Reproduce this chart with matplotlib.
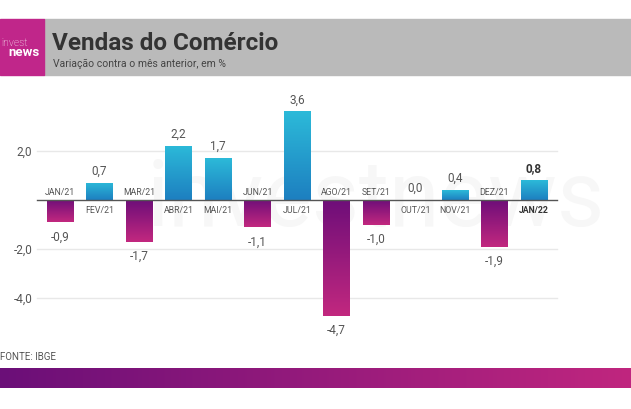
import numpy as np
import matplotlib
matplotlib.use("Agg")
import matplotlib.pyplot as plt
from matplotlib.patches import Rectangle
from matplotlib.colors import LinearSegmentedColormap

meses = ["JAN/21", "FEV/21", "MAR/21", "ABR/21", "MAI/21", "JUN/21", "JUL/21",
         "AGO/21", "SET/21", "OUT/21", "NOV/21", "DEZ/21", "JAN/22"]
valores = [-0.9, 0.7, -1.7, 2.2, 1.7, -1.1, 3.6, -4.7, -1.0, 0.0, 0.4, -1.9, 0.8]
yticks = [-4.0, -2.0, 2.0]

plt.rcParams['font.family'] = ['Roboto', 'DejaVu Sans']

W, H = 631, 410
fig = plt.figure(figsize=(W / 100, H / 100), dpi=100)
fig.patch.set_facecolor("white")

def fx(px):
    return px / W

def fy(py):
    return 1 - py / H

# cabeçalho
fig.patches.append(Rectangle((fx(44), fy(76)), 1 - fx(44), fy(20) - fy(76),
                             transform=fig.transFigure, color="#bababa", zorder=0))
fig.patches.append(Rectangle((0, fy(76)), fx(44), fy(20) - fy(76),
                             transform=fig.transFigure, color="#c0268a", zorder=1))
fig.text(fx(1), fy(43), "invest", color="white", fontsize=7.5, fontweight="light",
         va="center", ha="left")
fig.text(fx(8), fy(52), "news", color="white", fontsize=9.5, fontweight="bold",
         va="center", ha="left")
fig.text(fx(52), fy(43), "Vendas do Comércio", color="#333333", fontsize=17.5,
         fontweight="bold", va="center", ha="left")
fig.text(fx(53), fy(64), "Variação contra o mês anterior, em %", color="#444444",
         fontsize=7.5, va="center", ha="left")

# faixa inferior com gradiente
cmap_faixa = LinearSegmentedColormap.from_list("faixa", ["#6b0f78", "#c0267f"])
ax_f = fig.add_axes([0, fy(389), 1, fy(369) - fy(389)])
ax_f.imshow(np.linspace(0, 1, 256).reshape(1, -1), aspect="auto", cmap=cmap_faixa,
            extent=[0, 1, 0, 1])
ax_f.axis("off")
fig.text(0, fy(357), "FONTE: IBGE", color="#555555", fontsize=7, va="center", ha="left")

# eixo principal
top_px, bot_px = 85, 345
ax = fig.add_axes([0, fy(bot_px), 1, fy(top_px) - fy(bot_px)])
ax.set_facecolor("none")
zero_px, unit_px = 201, 24.6
ax.set_ylim((zero_px - bot_px) / unit_px, (zero_px - top_px) / unit_px)
x0, dx = 60, 39.5
ax.set_xlim(-x0 / dx, (W - x0) / dx)

x = np.arange(len(meses))
larg = 0.66

# marca d'água
ax.text(8.0, 0.0, "investnews", fontsize=66, color="#f7f7f7", ha="center",
        va="center", fontweight="normal", zorder=0)

for yv in yticks:
    ax.plot([-0.58, 12.58], [yv, yv], color="#e8e8e8", lw=1, zorder=1)
    ax.text(-0.7, yv, f"{yv:.1f}".replace(".", ","), ha="right", va="center",
            fontsize=8.5, color="#555555")
ax.plot([-0.58, 12.58], [0, 0], color="#555555", lw=1, zorder=4)

cmap_pos = LinearSegmentedColormap.from_list("pos", ["#1d7fc0", "#2cbad9"])
cmap_neg = LinearSegmentedColormap.from_list("neg", ["#c2287f", "#6e0e79"])
grad = np.linspace(0, 1, 256).reshape(-1, 1)

bars = ax.bar(x, valores, width=larg, color="none", zorder=2)
for xi, v, rect, mes in zip(x, valores, bars, meses):
    negrito = "bold" if mes == "JAN/22" else "normal"
    cor_txt = "#333333" if mes == "JAN/22" else "#555555"
    if v != 0:
        cm = cmap_pos if v > 0 else cmap_neg
        ext = [xi - larg / 2, xi + larg / 2, min(0, v), max(0, v)]
        im = ax.imshow(grad, aspect="auto", cmap=cm, extent=ext, origin="lower",
                       zorder=2)
        im.set_clip_path(rect)
    lbl = f"{v:.1f}".replace(".", ",")
    if v > 0:
        ax.text(xi, v + 0.25, lbl, ha="center", va="bottom", fontsize=8.5,
                color=cor_txt, fontweight=negrito)
        ax.text(xi, -0.4, mes, ha="center", va="center", fontsize=6.3,
                color=cor_txt, fontweight=negrito)
    elif v < 0:
        ax.text(xi, v - 0.3, lbl, ha="center", va="top", fontsize=8.5,
                color=cor_txt)
        ax.text(xi, 0.35, mes, ha="center", va="center", fontsize=6.3,
                color=cor_txt)
    else:
        ax.text(xi, 0.25, lbl, ha="center", va="bottom", fontsize=8.5,
                color=cor_txt)
        ax.text(xi, -0.4, mes, ha="center", va="center", fontsize=6.3,
                color=cor_txt)

ax.axis("off")

fig.savefig("out.png", dpi=100)
